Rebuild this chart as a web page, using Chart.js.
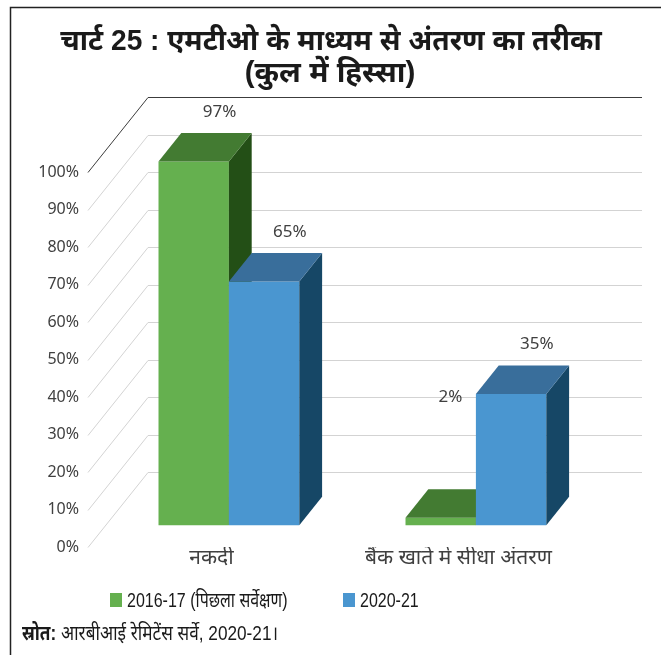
<!DOCTYPE html>
<html>
<head>
<meta charset="utf-8">
<script src="https://cdn.jsdelivr.net/npm/chart.js@4"></script>
<style>
  html, body { margin: 0; padding: 0; background: #fff; }
</style>
</head>
<body>
<canvas id="mtoChart" width="661" height="655"></canvas>
<script>
// chart data
var categories = ['नकदी', 'बैंक खाते में सीधा अंतरण'];
var seriesNames = ['2016-17 (पिछला सर्वेक्षण)', '2020-21'];
var values2016 = [97, 2];
var values2020 = [65, 35];
var yTicks = [0, 10, 20, 30, 40, 50, 60, 70, 80, 90, 100];

var titleLines = ['चार्ट 25 : एमटीओ के माध्यम से अंतरण का तरीका', '(कुल में हिस्सा)'];
var sourceLabel = 'स्रोत:';
var sourceText = ' आरबीआई रेमिटेंस सर्वे, 2020-21।';

// face colours for the boxes: front, top, side
var shades = [
  { front: '#65b04f', top: '#437b32', side: '#234f16' },
  { front: '#4a96d0', top: '#396e9b', side: '#164766' }
];

var NARROW = '"Liberation Sans", "Noto Sans", sans-serif';
var PLAIN = '"Noto Sans", "DejaVu Sans", sans-serif';

// floor depth and where the boxes sit inside it
var DEPTH_X = 60, DEPTH_Y = -75;
var BAR_AT = 0.29, BAR_DEPTH = 0.38;

// text squeezed sideways, like a narrow typeface
function narrowText(ctx, text, x, y, squeeze) {
  ctx.save();
  ctx.translate(x, y);
  ctx.scale(squeeze, 1);
  ctx.fillText(text, 0, 0);
  ctx.restore();
  return ctx.measureText(text).width * squeeze;
}

var box3d = {
  id: 'box3d',
  beforeDatasetsDraw: function(chart) {
    var ctx = chart.ctx, area = chart.chartArea, y = chart.scales.y;
    ctx.save();
    ctx.lineWidth = 1;
    yTicks.forEach(function(v) {
      var py = Math.round(y.getPixelForValue(v)) + 0.5;
      ctx.strokeStyle = v === 100 ? '#3c3c3c' : '#d3d3d3';
      ctx.beginPath();
      ctx.moveTo(area.left, py);
      ctx.lineTo(area.left + DEPTH_X, py + DEPTH_Y);
      ctx.lineTo(area.right + DEPTH_X, py + DEPTH_Y);
      ctx.stroke();
    });

    var ox = DEPTH_X * BAR_AT, oy = DEPTH_Y * BAR_AT;
    var dx = DEPTH_X * BAR_DEPTH, dy = DEPTH_Y * BAR_DEPTH;
    chart.data.datasets.forEach(function(ds, di) {
      var meta = chart.getDatasetMeta(di);
      meta.data.forEach(function(bar) {
        var p = bar.getProps(['x', 'y', 'base', 'width'], true);
        var l = p.x - p.width / 2 + ox, r = p.x + p.width / 2 + ox;
        var t = p.y + oy, b = p.base + oy;
        ctx.fillStyle = shades[di].front;
        ctx.fillRect(l, t, r - l, b - t);
        ctx.fillStyle = shades[di].side;
        ctx.beginPath();
        ctx.moveTo(r, t); ctx.lineTo(r + dx, t + dy); ctx.lineTo(r + dx, b + dy); ctx.lineTo(r, b);
        ctx.closePath(); ctx.fill();
        ctx.fillStyle = shades[di].top;
        ctx.beginPath();
        ctx.moveTo(l, t); ctx.lineTo(l + dx, t + dy); ctx.lineTo(r + dx, t + dy); ctx.lineTo(r, t);
        ctx.closePath(); ctx.fill();
      });
    });
    ctx.restore();
    return false;
  },
  afterDraw: function(chart) {
    var ctx = chart.ctx, opts = chart.options.plugins.box3d;
    var ox = DEPTH_X * BAR_AT, oy = DEPTH_Y * BAR_AT;
    var dx = DEPTH_X * BAR_DEPTH, dy = DEPTH_Y * BAR_DEPTH;
    ctx.save();

    // value labels above each box
    ctx.font = '17px ' + PLAIN;
    ctx.fillStyle = '#404040';
    ctx.textAlign = 'center';
    ctx.textBaseline = 'middle';
    chart.data.datasets.forEach(function(ds, di) {
      chart.getDatasetMeta(di).data.forEach(function(bar, i) {
        var p = bar.getProps(['x', 'y'], true);
        var shift = opts.labelShift[di + '-' + i] || [0, 0];
        ctx.fillText(ds.data[i] + '%', p.x + ox + dx + 3 + shift[0], p.y + oy + dy - 21 + shift[1]);
      });
    });

    // title
    ctx.fillStyle = '#1a1a1a';
    ctx.font = 'bold 29px ' + NARROW;
    narrowText(ctx, titleLines[0], 331, 42, 0.97);
    narrowText(ctx, titleLines[1], 330, 74, 1.02);

    // legend
    ctx.font = '20px ' + NARROW;
    ctx.textAlign = 'left';
    var lx = [110, 343];
    chart.data.datasets.forEach(function(ds, di) {
      ctx.fillStyle = ds.backgroundColor;
      ctx.fillRect(lx[di], 593, 12, 14);
      ctx.fillStyle = '#1a1a1a';
      narrowText(ctx, ds.label, lx[di] + 17, 601, 0.8);
    });

    // source line
    ctx.font = 'bold 20px ' + NARROW;
    var w = narrowText(ctx, sourceLabel, 22, 634, 0.86);
    ctx.font = '20px ' + NARROW;
    narrowText(ctx, sourceText, 22 + w, 634, 0.86);

    // frame
    ctx.strokeStyle = '#222';
    ctx.lineWidth = 1.5;
    ctx.beginPath();
    ctx.moveTo(10.5, 655); ctx.lineTo(10.5, 7.5); ctx.lineTo(661, 7.5);
    ctx.stroke();
    ctx.restore();
  }
};

function noPadding(scale) {
  scale.paddingTop = 0; scale.paddingBottom = 0;
  scale.paddingLeft = 0; scale.paddingRight = 0;
}

new Chart(document.getElementById('mtoChart'), {
  type: 'bar',
  data: {
    labels: categories,
    datasets: [
      { label: seriesNames[0], data: values2016, backgroundColor: shades[0].front },
      { label: seriesNames[1], data: values2020, backgroundColor: shades[1].front }
    ]
  },
  options: {
    responsive: false,
    animation: false,
    layout: { padding: { top: 172, right: 79, bottom: 78, left: 10 } },
    datasets: { bar: { categoryPercentage: 0.57, barPercentage: 1 } },
    scales: {
      x: {
        grid: { display: false, drawTicks: false },
        border: { display: false },
        ticks: { color: '#404040', font: { size: 21, family: PLAIN }, padding: -2, maxRotation: 0 },
        afterFit: function(s) { s.height = 30; noPadding(s); }
      },
      y: {
        min: 0, max: 100,
        grid: { display: false, drawTicks: false },
        border: { display: false },
        afterBuildTicks: function(s) { s.ticks = yTicks.map(function(v) { return { value: v }; }); },
        ticks: {
          color: '#404040', font: { size: 16, family: PLAIN }, padding: 9,
          callback: function(v) { return v + '%'; }
        },
        afterFit: function(s) { s.width = 78; noPadding(s); }
      }
    },
    plugins: {
      legend: { display: false },
      title: { display: false },
      tooltip: { enabled: false },
      box3d: { labelShift: { '0-1': [-16, -71] } }
    }
  },
  plugins: [box3d]
});
</script>
</body>
</html>
